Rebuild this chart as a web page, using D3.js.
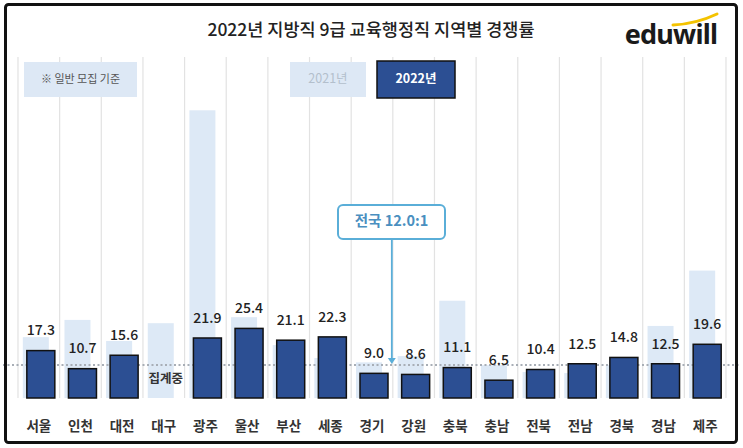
<!DOCTYPE html>
<html><head><meta charset="utf-8">
<script src="https://cdn.jsdelivr.net/npm/d3@7"></script>
<style>html,body{margin:0;padding:0;background:#fff;}svg{display:block;}</style>
</head><body>
<svg id="c" width="743" height="448"></svg>
<script>
const categories = ["서울","인천","대전","대구","광주","울산","부산","세종","경기","강원","충북","충남","전북","전남","경북","경남","제주"];
const values2022 = [17.3,10.7,15.6,null,21.9,25.4,21.1,22.3,9.0,8.6,11.1,6.5,10.4,12.5,14.8,12.5,19.6];
const values2021 = [22.2,28.5,20.8,27.3,105,29.5,19.3,14.6,13,15.3,35.5,12,9.5,9.1,12,26.3,46.5];
const nationalAvg = 12.0;
const pendingLabel = "집계중";
const titleText = "2022년 지방직 9급 교육행정직 지역별 경쟁률";
const legendLabels = ["2021년","2022년"];
const noteText = "※ 일반 모집 기준";
const avgText = "전국 12.0:1";

const font = "'Noto Sans CJK KR','Noto Sans',sans-serif";
const svg = d3.select("#c");

const x = d3.scaleBand().domain(categories).range([18, 726]).paddingInner(0).paddingOuter(0);
const y = d3.scaleLinear().domain([0, 105]).range([398, 110.3]);
const bw = x.bandwidth();

// gridlines
svg.append("g").selectAll("line").data(d3.range(categories.length + 1)).join("line")
  .attr("x1", i => 18 + i * bw).attr("x2", i => 18 + i * bw)
  .attr("y1", 57).attr("y2", 398)
  .attr("stroke", "#e2e2e2").attr("stroke-width", 1.2);

// legend / note boxes
svg.append("rect").attr("x", 24).attr("y", 62).attr("width", 113).attr("height", 35).attr("fill", "#dde8f5");
svg.append("text").attr("x", 80.5).attr("y", 80).attr("text-anchor", "middle").attr("dominant-baseline", "middle")
  .attr("font-family", font).attr("font-size", 11).attr("fill", "#555").text(noteText);
svg.append("rect").attr("x", 290).attr("y", 62).attr("width", 76).attr("height", 35).attr("fill", "#dde8f5");
svg.append("text").attr("x", 328).attr("y", 80).attr("text-anchor", "middle").attr("dominant-baseline", "middle")
  .attr("font-family", font).attr("font-size", 12.5).attr("fill", "#b3bfcc").text(legendLabels[0]);
svg.append("rect").attr("x", 377).attr("y", 61).attr("width", 78).attr("height", 37).attr("fill", "#2c4f93")
  .attr("stroke", "#111").attr("stroke-width", 1.5);
svg.append("text").attr("x", 416).attr("y", 80).attr("text-anchor", "middle").attr("dominant-baseline", "middle")
  .attr("font-family", font).attr("font-size", 12.5).attr("font-weight", 700).attr("fill", "#fff").text(legendLabels[1]);

// 2021 bars (light)
svg.append("g").selectAll("rect").data(categories).join("rect")
  .attr("x", (d) => x(d) + bw / 2 - 3 - 13)
  .attr("width", 26)
  .attr("y", (d, i) => y(values2021[i]))
  .attr("height", (d, i) => y(0) - y(values2021[i]))
  .attr("fill", "#dde9f6");

// average dashed line
svg.append("line").attr("x1", 3).attr("x2", 740).attr("y1", y(nationalAvg)).attr("y2", y(nationalAvg))
  .attr("stroke", "#a8aeb6").attr("stroke-width", 2).attr("stroke-dasharray", "2,2.5");

// 2022 bars (dark)
const data22 = categories.map((c, i) => ({c, v: values2022[i]})).filter(d => d.v != null);
svg.append("g").selectAll("rect").data(data22).join("rect")
  .attr("x", d => x(d.c) + bw / 2 + 2 - 14)
  .attr("width", 28)
  .attr("y", d => y(d.v))
  .attr("height", d => y(0) - y(d.v))
  .attr("fill", "#2c4f93").attr("stroke", "#111").attr("stroke-width", 1.5);

// value labels
svg.append("g").selectAll("text").data(data22).join("text")
  .attr("x", d => x(d.c) + bw / 2 + 2)
  .attr("y", d => y(d.v) - 19)
  .attr("text-anchor", "middle").attr("dominant-baseline", "middle")
  .attr("font-family", font).attr("font-size", 14).attr("font-weight", 500).attr("fill", "#222")
  .text(d => d.v.toFixed(1));

// pending label
categories.forEach((c, i) => {
  if (values2022[i] == null) {
    svg.append("text").attr("x", x(c) + bw / 2 + 2).attr("y", 380)
      .attr("text-anchor", "middle").attr("dominant-baseline", "middle")
      .attr("font-family", font).attr("font-size", 12.5).attr("font-weight", 700).attr("fill", "#333").text(pendingLabel);
  }
});

// category labels
svg.append("g").selectAll("text").data(categories).join("text")
  .attr("x", d => x(d) + bw / 2)
  .attr("y", 427)
  .attr("text-anchor", "middle").attr("dominant-baseline", "middle")
  .attr("font-family", font).attr("font-size", 13.5).attr("font-weight", 700).attr("fill", "#333")
  .text(d => d);

// national average annotation
const ax = x("강원");
svg.append("line").attr("x1", ax - 1).attr("x2", ax - 1).attr("y1", 239).attr("y2", y(nationalAvg) - 6)
  .attr("stroke", "#5aaed8").attr("stroke-width", 1.8);
svg.append("path").attr("d", `M${ax - 5},${y(nationalAvg) - 7} L${ax + 3},${y(nationalAvg) - 7} L${ax - 1},${y(nationalAvg) - 1} Z`)
  .attr("fill", "#5aaed8");
svg.append("rect").attr("x", 338).attr("y", 205).attr("width", 107).attr("height", 34).attr("rx", 5)
  .attr("fill", "#fff").attr("stroke", "#5aaed8").attr("stroke-width", 2);
svg.append("text").attr("x", 391.5).attr("y", 222).attr("text-anchor", "middle").attr("dominant-baseline", "middle")
  .attr("font-family", font).attr("font-size", 14.5).attr("font-weight", 700).attr("fill", "#4a8fc0").text(avgText);

// title
svg.append("text").attr("x", 371).attr("y", 31).attr("text-anchor", "middle").attr("dominant-baseline", "middle")
  .attr("font-family", font).attr("font-size", 17.5).attr("font-weight", 500).attr("fill", "#222").text(titleText);

// logo
svg.append("path").attr("d", "M673,25 Q696,24 717,14").attr("fill", "none").attr("stroke", "#f4c300").attr("stroke-width", 3).attr("stroke-linecap", "round");
svg.append("text").attr("x", 671).attr("y", 37).attr("text-anchor", "middle").attr("dominant-baseline", "middle")
  .attr("font-family", "'Noto Sans',sans-serif").attr("font-size", 27).attr("font-weight", 700).attr("fill", "#1a1a1a")
  .attr("letter-spacing", -0.8).text("eduwill");

// outer border
svg.append("rect").attr("x", 5.5).attr("y", 4.5).attr("width", 731).attr("height", 438).attr("rx", 3)
  .attr("fill", "none").attr("stroke", "#111").attr("stroke-width", 3);
</script>
</body></html>
